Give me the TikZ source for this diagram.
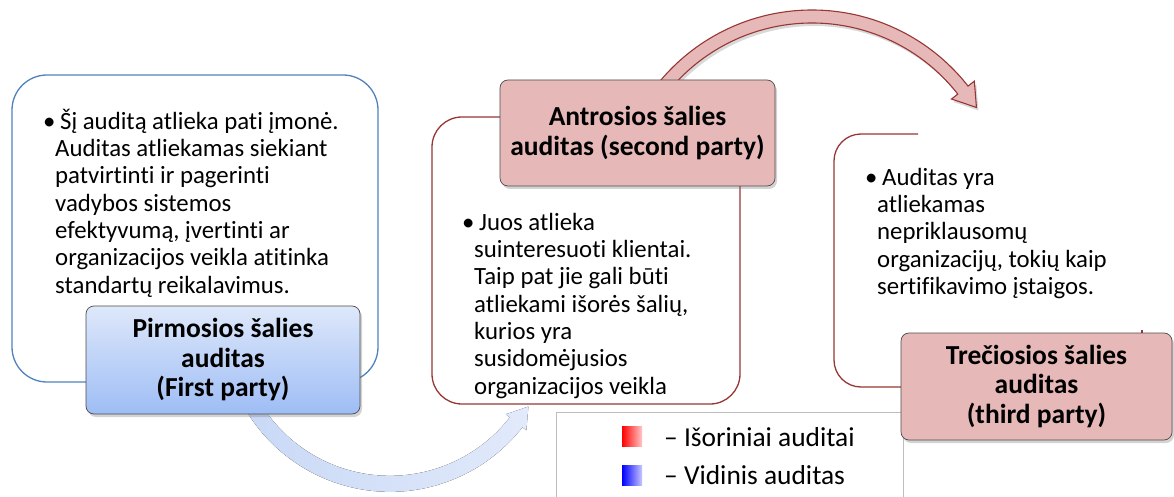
\documentclass[tikz,border=0pt]{standalone}
\usepackage{fontspec}
\setmainfont{Carlito}[Ligatures=NoCommon]
\usetikzlibrary{shadows,calc}
\definecolor{bluebord}{RGB}{79,129,189}
\definecolor{redbord}{RGB}{150,55,53}
\definecolor{pinkfill}{RGB}{230,185,184}
\definecolor{nodebord}{RGB}{75,75,75}
\definecolor{bluetop}{RGB}{222,232,250}
\definecolor{bluebot}{RGB}{158,189,245}
\definecolor{arrowblueA}{RGB}{200,216,246}
\definecolor{arrowblueB}{RGB}{226,234,251}
\definecolor{legbord}{RGB}{190,190,190}
\newcommand{\bul}{\rlap{\hspace{-12pt}•}\hspace{5pt}}
\begin{document}
\begin{tikzpicture}[x=1pt,y=1pt,
  titlebox/.style={draw=nodebord, line width=0.7pt, rounded corners=8pt,
    align=center, inner sep=0pt, font=\fontsize{27.5}{29.5}\selectfont\bfseries,
    drop shadow={opacity=0.35, shadow xshift=2pt, shadow yshift=-3pt}},
  bodytext/.style={anchor=north west, align=left, inner sep=0pt,
    font=\fontsize{24.8}{27.3}\selectfont},
  outlinebox/.style={line width=1.3pt},
  legtext/.style={anchor=west, inner sep=0pt, font=\fontsize{27.4}{30}\selectfont}]
\useasboundingbox (0,0) rectangle (1174,496);

% outline boxes
\draw[outlinebox, draw=bluebord, rounded corners=35pt] (12,421) rectangle (378,114);
\draw[outlinebox, draw=redbord, rounded corners=30pt] (432,379) rectangle (740,92);
\draw[outlinebox, draw=redbord, rounded corners=27pt] (918,362) -- (834,362) -- (834,109) -- (905,109);
\draw[outlinebox, draw=redbord] (1142,166) -- (1142,151);

% blue curved arrow
\coordinate (cb) at (390,172.2);
\fill[left color=arrowblueA, right color=arrowblueB]
  ($(cb)+(205:168)$) arc[start angle=205, end angle=322, radius=168]
  -- ($(cb)+(322:173)$) -- ($(cb)+(322:160)+(52:20)$) -- ($(cb)+(322:147)$)
  -- ($(cb)+(322:152)$) arc[start angle=322, end angle=205, radius=152] -- cycle;

% red curved arrow
\coordinate (cr) at (812,288);
\filldraw[fill=pinkfill, draw=redbord, line width=1.1pt,
  drop shadow={opacity=0.3, shadow xshift=2pt, shadow yshift=-3pt}]
  ($(cr)+(145:198)$) arc[start angle=145, end angle=38, radius=198]
  -- ($(cr)+(38:206)$) -- ($(cr)+(38:191.5)+(-52:22)$) -- ($(cr)+(38:177)$)
  -- ($(cr)+(38:185)$) arc[start angle=38, end angle=145, radius=185] -- cycle;

% legend
\draw[legbord, line width=1pt, fill=white] (556,84) rectangle (903,-10);
\node[inner sep=0pt, minimum size=20pt, left color=red, right color=red!22] (sqr) at (632,60) {};
\node[inner sep=0pt, minimum size=20pt, left color=blue, right color=blue!22] (sqb) at (632,21) {};
\node[legtext] (lr) at (664,59) {– Išoriniai auditai};
\node[legtext] (lb) at (664,21) {– Vidinis auditas};

% title nodes
\node[titlebox, top color=bluetop, bottom color=bluebot, minimum width=274pt, minimum height=108pt] (first) at (223,136)
  {\raisebox{-3pt}{\parbox{260pt}{\centering Pirmosios šalies\\auditas\\(First party)}}};
\node[titlebox, fill=pinkfill, minimum width=275pt, minimum height=106pt] (second) at (637.5,363)
  {Antrosios šalies\\auditas (second party)};
\node[titlebox, fill=pinkfill, minimum width=271pt, minimum height=107pt] (third) at (1036.5,109.5)
  {\raisebox{-2pt}{\parbox{260pt}{\centering Trečiosios šalies\\auditas\\(third party)}}};

% body texts
\node[bodytext] (t1) at (55,389)
  {\rule{0pt}{22pt}\bul Šį auditą atlieka pati įmonė.\\
   Auditas atliekamas siekiant\\
   patvirtinti ir pagerinti\\
   vadybos sistemos\\
   efektyvumą, įvertinti ar\\
   organizacijos veikla atitinka\\
   standartų reikalavimus.};
\node[bodytext] (t2) at (474,288)
  {\rule{0pt}{22pt}\bul Juos atlieka\\
   suinteresuoti klientai.\\
   Taip pat jie gali būti\\
   atliekami išorės šalių,\\
   kurios yra\\
   susidomėjusios\\
   organizacijos veikla};
\node[bodytext] (t3) at (877,333)
  {\rule{0pt}{22pt}\bul Auditas yra\\
   atliekamas\\
   nepriklausomų\\
   organizacijų, tokių kaip\\
   sertifikavimo įstaigos.};
\end{tikzpicture}
\end{document}
